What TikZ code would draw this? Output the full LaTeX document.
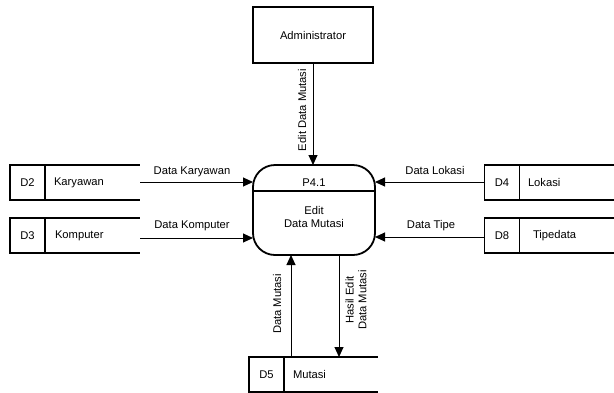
\documentclass[tikz,border=0pt]{standalone}
\usepackage{fontspec}
\setmainfont{Liberation Sans}
\usetikzlibrary{arrows.meta}

\begin{document}
\begin{tikzpicture}[x=1pt,y=-1pt,
  every node/.style={font=\fontsize{11.2}{12.8}\selectfont, inner sep=0pt, outer sep=0pt},
  frame/.style={line width=1.8pt},
  flow/.style={line width=1pt, -{Triangle[length=10pt,width=9pt]}},
  idbox/.style={draw, frame, minimum width=35pt, minimum height=35pt},
  entity/.style={draw, frame, minimum width=120pt, minimum height=56pt},
  process/.style={draw, frame, rounded corners=22pt, minimum width=122pt, minimum height=90pt},
  label/.style={anchor=base}]

\useasboundingbox[fill=white] (0,0) rectangle (614,392);

% external entity
\node[entity] (admin) at (313,35) {Administrator};

% process
\node[process] (p) at (314,210) {};
\draw[frame] ([yshift=-26pt]p.north west) -- ([yshift=-26pt]p.north east);
\node (pid) at ([yshift=-18pt]p.north) {P4.1};
\node[align=center] (pname) at ([yshift=-7pt]p.center) {Edit\\Data Mutasi};

% data stores, left side
\node[idbox] (d2) at (27.5,182.5) {D2};
\draw[frame] (d2.north west) -- ++(130,0) (d2.south west) -- ++(130,0);
\node[anchor=west] (d2t) at (54,182.5) {Karyawan};
\coordinate (d2o) at (140,182);

\node[idbox] (d3) at (27.5,235.5) {D3};
\draw[frame] (d3.north west) -- ++(130,0) (d3.south west) -- ++(130,0);
\node[anchor=west] (d3t) at (55,235.5) {Komputer};
\coordinate (d3o) at (140,238);

% data stores, right side
\node[idbox] (d4) at (502,182.5) {D4};
\draw[frame] (d4.north west) -- ++(130,0) (d4.south west) -- ++(130,0);
\node[anchor=west] (d4t) at (528,182.5) {Lokasi};
\coordinate (d4o) at (485,182);

\node[idbox] (d8) at (502,235.5) {D8};
\draw[frame] (d8.north west) -- ++(130,0) (d8.south west) -- ++(130,0);
\node[anchor=west] (d8t) at (533,235.5) {Tipedata};
\coordinate (d8o) at (485,237);

% data store, bottom
\node[idbox] (d5) at (266.5,374.5) {D5};
\draw[frame] (d5.north west) -- ++(129,0) (d5.south west) -- ++(129,0);
\node[anchor=west] (d5t) at (293,374.5) {Mutasi};
\coordinate (d5a) at (291,357);
\coordinate (d5b) at (339,357);

% data flows
\draw[flow] (admin.south) -- (admin.south |- p.north);
\node[rotate=90] (fEdit) at (302,110) {Edit Data Mutasi};

\draw[flow] (d2o) -- (d2o -| p.west);
\node[label] (fKar) at (192,174.5) {Data Karyawan};
\draw[flow] (d3o) -- (d3o -| p.west);
\node[label] (fKom) at (192,228) {Data Komputer};

\draw[flow] (d4o) -- (d4o -| p.east);
\node[label] (fLok) at (435,174) {Data Lokasi};
\draw[flow] (d8o) -- (d8o -| p.east);
\node[label] (fTip) at (431,228) {Data Tipe};

\draw[flow] (d5a) -- (d5a |- p.south);
\node[rotate=90] (fMut) at (277,304) {Data Mutasi};
\draw[flow] (d5b |- p.south) -- (d5b);
\node[rotate=90, align=center] (fHas) at (356,300) {Hasil Edit\\Data Mutasi};
\end{tikzpicture}
\end{document}
